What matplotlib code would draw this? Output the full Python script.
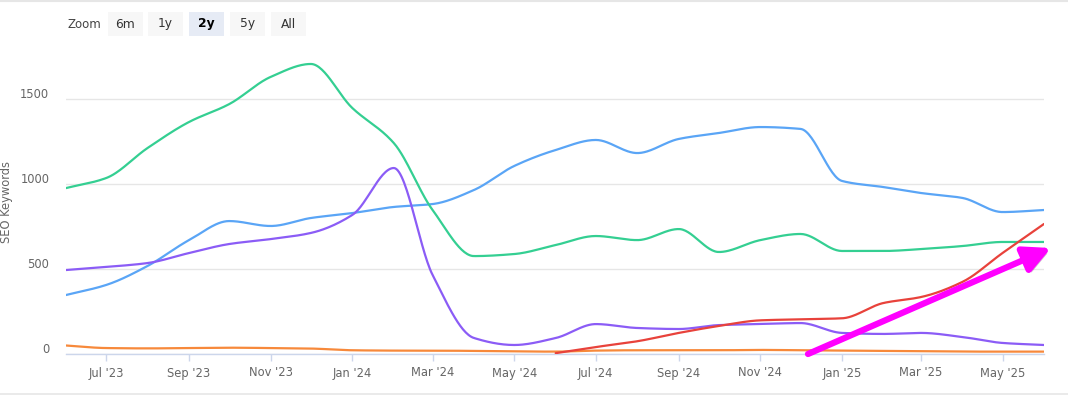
import numpy as np
import pandas as pd
import matplotlib
matplotlib.use("Agg")
import matplotlib.pyplot as plt
import matplotlib.dates as mdates
from matplotlib.patches import Rectangle
from matplotlib.lines import Line2D
from matplotlib.transforms import ScaledTranslation
import matplotlib.patheffects as pe

# monthly values, Jun 2023 .. Jun 2025
months = pd.date_range("2023-06-01", "2025-06-01", freq="MS")
green = [976, 1035, 1212, 1365, 1470, 1630, 1706, 1447, 1241, 847, 576, 588, 641,
         694, 670, 735, 600, 670, 706, 606, 606, 617, 635, 659, 659]
blue = [347, 406, 518, 670, 782, 753, 800, 829, 865, 882, 965, 1106, 1200,
        1259, 1182, 1265, 1300, 1335, 1324, 1018, 982, 947, 918, 835, 847]
purple = [494, 512, 535, 594, 647, 676, 712, 818, 1094, 465, 94, 53, 94,
          176, 153, 147, 170, 176, 182, 124, 118, 124, 100, 65, 53]
orange = [50, 35, 33, 35, 37, 35, 32, 22, 20, 20, 18, 15, 14,
          20, 22, 22, 22, 24, 22, 20, 18, 16, 14, 14, 14]
red_start = 12  # red series begins Jun 2024
red = [5, 41, 75, 124, 165, 198, 204, 210, 300, 335, 424, 594, 765]

y_ticks = [0, 500, 1000, 1500]
zoom_buttons = ["6m", "1y", "2y", "5y", "All"]

W, H = 1068, 397


def px(x, y):
    return x / W, 1 - y / H


def smooth(x, y, n=30):
    # monotone cubic (like a highcharts spline without overshoot)
    x = np.asarray(x, float)
    y = np.asarray(y, float)
    h = np.diff(x)
    d = np.diff(y) / h
    m = np.zeros_like(y)
    for i in range(1, len(y) - 1):
        if d[i - 1] * d[i] > 0:
            w1 = 2 * h[i] + h[i - 1]
            w2 = h[i] + 2 * h[i - 1]
            m[i] = (w1 + w2) / (w1 / d[i - 1] + w2 / d[i])
    m[0], m[-1] = d[0], d[-1]
    xs, ys = [], []
    for i in range(len(h)):
        t = np.linspace(0, 1, n, endpoint=False)
        h00 = 2 * t**3 - 3 * t**2 + 1
        h10 = t**3 - 2 * t**2 + t
        h01 = -2 * t**3 + 3 * t**2
        h11 = t**3 - t**2
        xs.append(x[i] + t * h[i])
        ys.append(h00 * y[i] + h10 * h[i] * m[i] + h01 * y[i + 1] + h11 * h[i] * m[i + 1])
    xs.append([x[-1]])
    ys.append([y[-1]])
    return np.concatenate(xs), np.concatenate(ys)


fig = plt.figure(figsize=(W / 100, H / 100), dpi=100)
ax = fig.add_axes([66 / W, 43 / H, (1044 - 66) / W, 306 / H])

xn = mdates.date2num(months)
series = [
    (xn, orange, "#f7893b"),
    (xn, blue, "#5aa5f6"),
    (xn, green, "#34cf92"),
    (xn, purple, "#8b5cf6"),
    (xn[red_start:], red, "#e8423b"),
]
for xv, yv, col in series:
    sx, sy = smooth(xv, yv)
    ax.plot(sx, sy, color=col, lw=1.6, solid_capstyle="round", zorder=3)

ax.set_xlim(xn[0], xn[-1])
ax.set_ylim(0, 1800)

ax.set_yticks(y_ticks)
ax.yaxis.grid(True, color="#e6e6e6", lw=1)
ax.set_axisbelow(True)
ax.tick_params(axis="y", length=0, pad=12, labelsize=8.3, labelcolor="#666666")
for lab in ax.get_yticklabels():
    lab.set_transform(lab.get_transform() + ScaledTranslation(0, 6 / 100, fig.dpi_scale_trans))

ax.xaxis.set_major_locator(mdates.MonthLocator(bymonth=[1, 3, 5, 7, 9, 11]))
ax.xaxis.set_major_formatter(mdates.DateFormatter("%b '%y"))
ax.tick_params(axis="x", length=5, width=1, color="#ccd6eb", pad=4,
               labelsize=8.3, labelcolor="#666666")

for s in ["top", "right", "left"]:
    ax.spines[s].set_visible(False)
ax.spines["bottom"].set_color("#ccd6eb")
ax.spines["bottom"].set_linewidth(1)

fig.text(7 / W, 1 - 202 / H, "SEO Keywords", rotation=90, ha="center", va="center",
         fontsize=8.3, color="#666666")

# zoom buttons
fig.text(*px(67, 24), "Zoom", ha="left", va="center", fontsize=8.5, color="#444444")
bx = [108, 148, 189, 230, 271]
for x0, lab in zip(bx, zoom_buttons):
    sel = lab == "2y"
    fig.add_artist(Rectangle(px(x0, 36), 35 / W, 24 / H, transform=fig.transFigure,
                             facecolor="#e6ebf5" if sel else "#f7f7f7", edgecolor="none"))
    fig.text(*px(x0 + 17.5, 24), lab, ha="center", va="center", fontsize=8.8,
             color="#000000" if sel else "#333333", fontweight="bold" if sel else "normal")

# frame lines
fig.add_artist(Line2D([0, 1], [1 - 0.5 / H, 1 - 0.5 / H], transform=fig.transFigure,
                      color="#e6e6e6", lw=1.5))
fig.add_artist(Line2D([0, 1], [1 - 394 / H, 1 - 394 / H], transform=fig.transFigure,
                      color="#e6e6e6", lw=1.2))

# magenta arrow
ax.annotate("", xy=(1051, H - 248), xycoords="figure pixels",
            xytext=(808, H - 354), textcoords="figure pixels",
            annotation_clip=False,
            arrowprops=dict(arrowstyle="-|>,head_length=1.0,head_width=0.5",
                            mutation_scale=16, color="#ff00ff", lw=4.5,
                            shrinkA=0, shrinkB=0,
                            path_effects=[pe.SimplePatchShadow(offset=(2, -2), alpha=0.25),
                                          pe.Normal()]),
            zorder=10)

fig.savefig("out.png", dpi=100)
